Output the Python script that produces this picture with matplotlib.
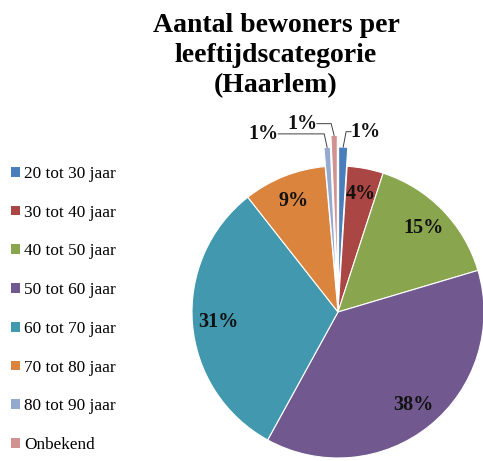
import numpy as np
import matplotlib.pyplot as plt
from matplotlib.patches import Patch

categories = ['20 tot 30 jaar', '30 tot 40 jaar', '40 tot 50 jaar', '50 tot 60 jaar',
              '60 tot 70 jaar', '70 tot 80 jaar', '80 tot 90 jaar', 'Onbekend']
shares = [1.0, 4.0, 15.4, 37.6, 31.4, 9.2, 0.7, 0.7]
colors = ['#4A7EBB', '#AA4643', '#89A54E', '#71588F', '#4198AF', '#DB843D', '#93A9CF', '#D19392']
explode = [0.13, 0, 0, 0, 0, 0, 0.13, 0.21]

# labels of the tiny slices sit outside with a leader line (data coords)
outside_pos = {0: (0.19, 1.235), 6: (-0.51, 1.22), 7: (-0.245, 1.29)}

SERIF = ['Liberation Serif', 'DejaVu Serif']

W, H = 483, 461
CX, CY, R = 338, 312, 146

fig = plt.figure(figsize=(W / 100, H / 100), dpi=100)
ax = fig.add_axes([0, 0, 1, 1])

wedges, _ = ax.pie(shares, colors=colors, explode=explode, startangle=90,
                   counterclock=False, radius=1.0,
                   wedgeprops=dict(edgecolor='white', linewidth=0.8))

# pie() resets the limits, so set them afterwards
ax.set_xlim(-CX / R, (W - CX) / R)
ax.set_ylim(-(H - CY) / R, CY / R)
ax.set_aspect('equal')
ax.axis('off')

for i, (w, v) in enumerate(zip(wedges, shares)):
    mid = np.deg2rad((w.theta1 + w.theta2) / 2)
    txt = f'{v:.0f}%'
    if i in outside_pos:
        ox, oy = w.center
        tip = (ox + np.cos(mid), oy + np.sin(mid))
        lx, ly = outside_pos[i]
        side = 1 if lx > tip[0] else -1
        ax.plot([tip[0], tip[0] + side * 0.02, lx - side * 0.1],
                [tip[1], ly, ly], color='#404040', lw=0.7)
        ax.text(lx, ly, txt, ha='center', va='center', fontsize=14.5,
                fontweight='bold', family=SERIF, color='#111111')
    else:
        d = 0.82
        ax.text(d * np.cos(mid), d * np.sin(mid), txt, ha='center', va='center',
                fontsize=14.5, fontweight='bold', family=SERIF, color='#111111')

fig.text(276 / W, 1 - 13 / H, 'Aantal bewoners per\nleeftijdscategorie\n(Haarlem)',
         ha='center', va='top', fontsize=20, fontweight='bold', family=SERIF,
         linespacing=1.26)

handles = [Patch(facecolor=c, edgecolor='none') for c in colors]
fig.legend(handles, categories, loc='upper left', bbox_to_anchor=(4 / W, 1 - 159 / H),
           frameon=False, prop={'family': SERIF, 'size': 12.4},
           handlelength=0.5, handleheight=0.5, handletextpad=0.25,
           labelspacing=1.32, borderaxespad=0)

fig.savefig('out.png', dpi=100)
